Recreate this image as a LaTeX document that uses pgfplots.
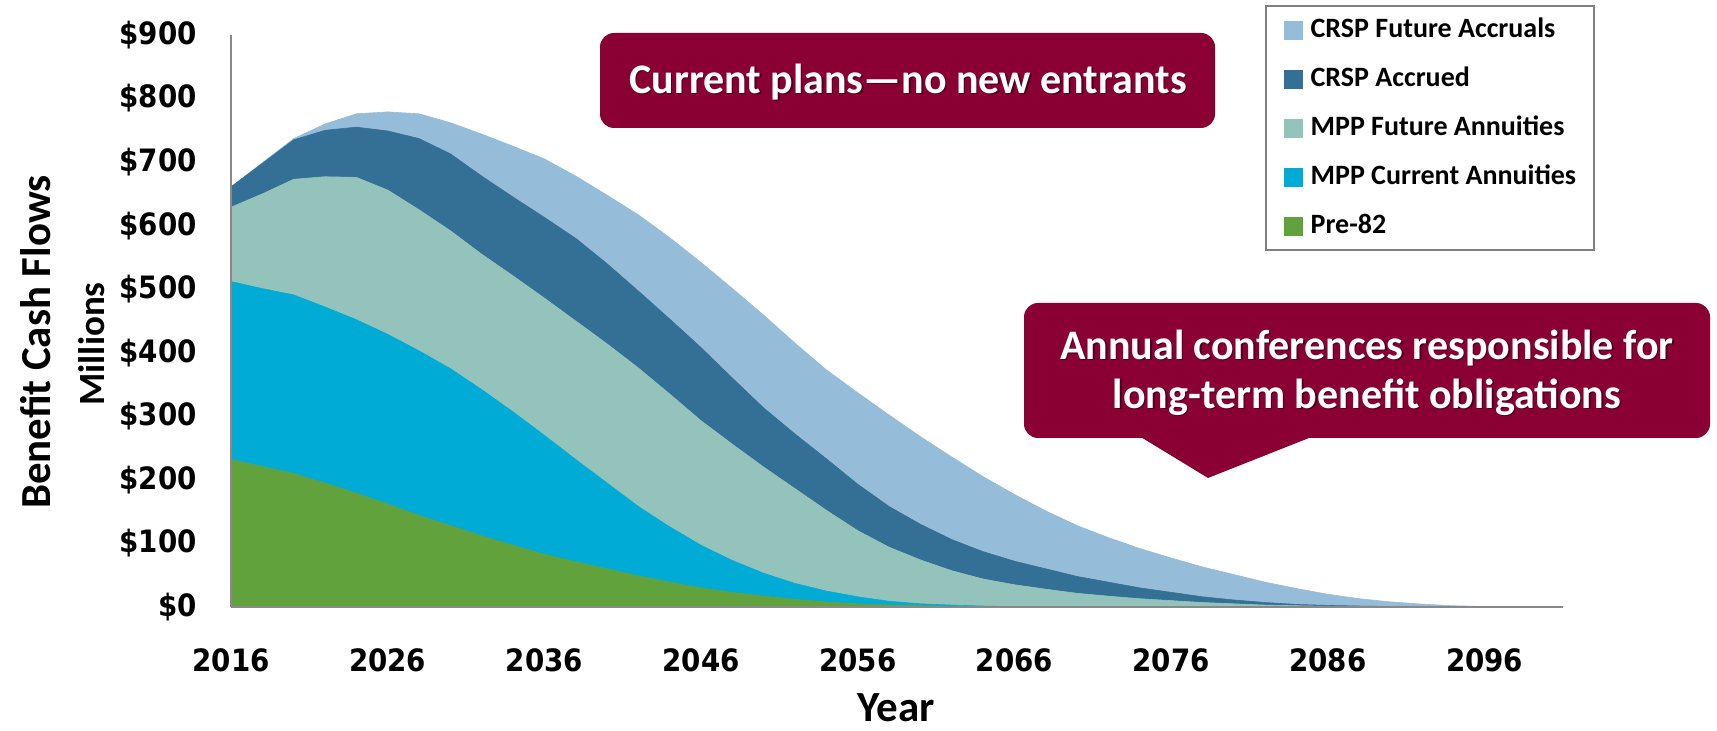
\documentclass[border=0pt]{standalone}
\usepackage{pgfplots}
\pgfplotsset{compat=1.18}
\usepackage{pgfplotstable}
\usepackage{fontspec}
\setmainfont{Carlito}
\newfontfamily\tickfont{DejaVu Sans Condensed}
\definecolor{cfa}{RGB}{149,188,217}
\definecolor{cac}{RGB}{52,111,150}
\definecolor{mfa}{RGB}{147,195,186}
\definecolor{mca}{RGB}{0,172,214}
\definecolor{pre}{RGB}{98,162,60}
\definecolor{callout}{RGB}{139,0,51}
\definecolor{axgray}{RGB}{137,137,137}
\definecolor{leggray}{RGB}{128,128,128}

\pgfplotstableread{
year pre mcur mfut cacc cfut
2016 232 280 117 32 0
2018 221 280 149 48 1
2020 210 281 182 62 2
2022 195 277 205 73 10
2024 179 273 224 79 21
2026 162 267 227 93 30
2028 144 259 222 112 39
2030 128 247 217 121 49
2032 112 230 213 123 66
2034 97 210 214 124 80
2036 83 187 216 127 92
2038 71 161 218 130 98
2040 60 135 219 126 108
2042 49 109 218 121 120
2044 39 87 209 118 128
2046 30 67 196 115 134
2048 23 50 183 104 141
2050 17 36 167 93 146
2052 12 25 149 86 143
2054 8 17 127 81 140
2056 5 11 104 73 144
2058 3 6 85 64 144
2060 2 3 69 56 138
2062 1 2 54 49 130
2064 0.5 1 42.5 43 118
2066 0 0.5 34.5 37 105
2068 0 0 28 32 91
2070 0 0 21.5 26.5 80
2072 0 0 17 22 70
2074 0 0 13 17 62
2076 0 0 10 13 54
2078 0 0 7 9 47
2080 0 0 5 6 40
2082 0 0 3 4 32
2084 0 0 2 2 25
2086 0 0 1 1.5 17.5
2088 0 0 0.5 1 11.5
2090 0 0 0 0.8 7.2
2092 0 0 0 0.3 4.2
2094 0 0 0 0 2
2096 0 0 0 0 0.8
2098 0 0 0 0 0.3
2100 0 0 0 0 0.1
2101 0 0 0 0 0
}\flows

\begin{document}
\begin{tikzpicture}[x=1pt,y=1pt]
\useasboundingbox (0,0) rectangle (858.5,365.5);
\begin{axis}[
  at={(115.5pt,62pt)}, anchor=south west,
  scale only axis, width=666pt, height=286pt,
  xmin=2016, xmax=2101, ymin=0, ymax=900,
  axis x line=bottom, axis y line=left,
  axis line style={-, draw=axgray, line width=1pt},
  axis on top,
  xtick={2016,2026,2036,2046,2056,2066,2076,2086,2096},
  xticklabels={2016,2026,2036,2046,2056,2066,2076,2086,2096},
  ytick={0,100,200,300,400,500,600,700,800,900},
  yticklabels={\$0,\$100,\$200,\$300,\$400,\$500,\$600,\$700,\$800,\$900},
  major tick length=0pt,
  tick style={draw=none},
  ticklabel style={font=\fontsize{15.4}{18}\tickfont\bfseries, inner sep=0pt},
  xticklabel style={anchor=center, yshift=-26.5pt},
  yticklabel style={anchor=east, xshift=-17pt},
  stack plots=y, area style,
  reverse legend,
  legend image code/.code={\fill[#1] (0pt,-4.5pt) rectangle (9pt,4.5pt);},
  legend style={
    at={(0.7763,1.0524)}, anchor=north west,
    draw=leggray, line width=1pt, fill=white,
    font=\fontsize{14}{16}\bfseries,
    inner xsep=9pt, inner ysep=5.5pt,
    row sep=11.5pt,
    nodes={inner sep=0pt, text height=10pt, text depth=3pt},
    /tikz/every odd column/.append style={column sep=4pt},
    cells={anchor=west},
  },
]
\addplot[fill=pre, draw=pre, line width=0.3pt] table[x=year,y=pre] {\flows} \closedcycle;
\addlegendentry{Pre-82}
\addplot[fill=mca, draw=mca, line width=0.3pt] table[x=year,y=mcur] {\flows} \closedcycle;
\addlegendentry{MPP Current Annuities}
\addplot[fill=mfa, draw=mfa, line width=0.3pt] table[x=year,y=mfut] {\flows} \closedcycle;
\addlegendentry{MPP Future Annuities}
\addplot[fill=cac, draw=cac, line width=0.3pt] table[x=year,y=cacc] {\flows} \closedcycle;
\addlegendentry{CRSP Accrued}
\addplot[fill=cfa, draw=cfa, line width=0.3pt] table[x=year,y=cfut] {\flows} \closedcycle;
\addlegendentry{CRSP Future Accruals}
\end{axis}
\node[rotate=90, font=\fontsize{21.4}{24}\bfseries] at (18,194.5) {Benefit Cash Flows};
\node[rotate=90, font=\fontsize{18.5}{22}\bfseries] at (46,193.5) {Millions};
\node[font=\fontsize{21.5}{24}\bfseries] at (448,11.5) {Year};
% callout 1
\fill[callout, rounded corners=7pt] (300,301.5) rectangle (607.5,349);
\node[text=black, opacity=0.45, font=\fontsize{21}{24}\bfseries] at (454.7,323.8) {Current plans—no new entrants};
\node[text=white, font=\fontsize{21}{24}\bfseries] at (454,324.5) {Current plans—no new entrants};
% callout 2
\fill[callout, rounded corners=7pt] (512,146.5) rectangle (855,214);
\fill[callout] (569.5,147.5) -- (604,126.5) -- (657,147.5) -- cycle;
\node[text=black, opacity=0.45, font=\fontsize{21}{24}\bfseries] at (684.2,190.8) {Annual conferences responsible for};
\node[text=white, font=\fontsize{21}{24}\bfseries] at (683.5,191.5) {Annual conferences responsible for};
\node[text=black, opacity=0.45, font=\fontsize{21}{24}\bfseries] at (684.2,166.3) {long-term benefit obligations};
\node[text=white, font=\fontsize{21}{24}\bfseries] at (683.5,167) {long-term benefit obligations};
\end{tikzpicture}
\end{document}
